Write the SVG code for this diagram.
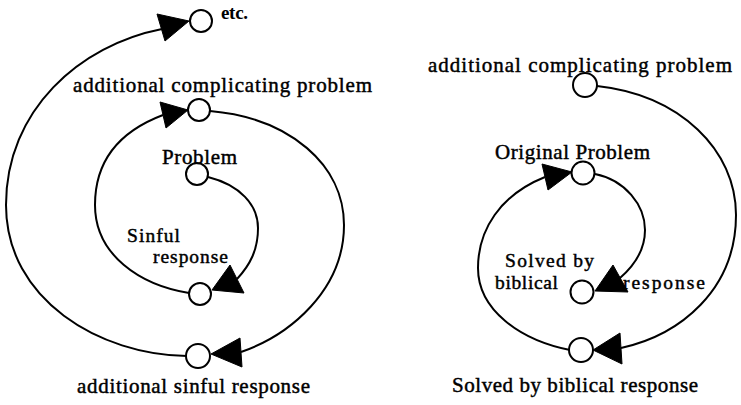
<svg xmlns="http://www.w3.org/2000/svg" width="741" height="405" viewBox="0 0 741 405">
<style>
.lbl{font-family:"Liberation Serif","Times New Roman",serif;font-size:21px;fill:#000;stroke:#000;stroke-width:0.45}
.sm{font-size:19.5px}
.node circle{fill:#fff;stroke:#000;stroke-width:2}
.conn path{fill:none;stroke:#000;stroke-width:2}
.conn polygon{fill:#000;stroke:#000;stroke-width:1}
</style>
<rect width="741" height="405" fill="#fff"/>
<g id="connectors" class="conn">
<path d="M187,356 C100,355 6,300 6,205 C6,110 80,45 162,29"/>
<polygon points="189,21 157,14 165,41"/>
<path d="M163,115 C110,135 95,170 95,205 C95,255 140,285 189,293"/>
<polygon points="188,110 160,102 166,128"/>
<path d="M210,111 C290,118 344,165 344,225 C344,290 290,335 241,352"/>
<polygon points="211,354 240,338 242,367"/>
<path d="M208,177 C240,185 258,205 258,228 C258,250 250,265 237,279"/>
<polygon points="212,290 230,265 244,293"/>
<path d="M597,86 C680,95 736,150 736,215 C736,290 680,335 621,348"/>
<polygon points="593,350 620,333 622,364"/>
<path d="M545,177 C500,195 478,230 478,268 C478,310 520,340 570,350"/>
<polygon points="572,172 542,164 548,190"/>
<path d="M595,174 C625,180 645,205 645,230 C645,250 635,265 620,278"/>
<polygon points="595,291 613,265 628,292"/>
</g>
<g id="etc" class="node"><circle cx="201" cy="21" r="11"/><text x="221" y="19" font-family="Liberation Serif, serif" font-weight="bold" font-size="19" textLength="27">etc.</text></g>
<g id="add-problem-left" class="node"><circle cx="199" cy="110" r="11"/><text class="lbl" x="73" y="92" textLength="299">additional complicating problem</text></g>
<g id="problem" class="node"><circle cx="197" cy="174" r="11"/><text class="lbl" x="162" y="164" textLength="75">Problem</text></g>
<g id="sinful-response" class="node"><circle cx="200" cy="294" r="11"/><text class="lbl sm" x="127" y="242" textLength="53">Sinful</text><text class="lbl sm" x="153" y="263" textLength="75">response</text></g>
<g id="add-sinful" class="node"><circle cx="198" cy="356" r="12"/><text class="lbl" x="77" y="393" textLength="233">additional sinful response</text></g>
<g id="add-problem-right" class="node"><circle cx="585" cy="85" r="12"/><text class="lbl" x="428" y="72" textLength="304">additional complicating problem</text></g>
<g id="original-problem" class="node"><circle cx="583" cy="173" r="11.5"/><text class="lbl" x="495" y="159" textLength="155">Original Problem</text></g>
<g id="solved-inner" class="node"><circle cx="582" cy="292" r="11.5"/><text class="lbl sm" x="505" y="267" textLength="89">Solved by</text><text class="lbl sm" x="495" y="289" textLength="63">biblical</text><text class="lbl sm" x="623" y="289" textLength="82">response</text></g>
<g id="solved-outer" class="node"><circle cx="581" cy="350" r="12"/><text class="lbl" x="452" y="392" textLength="246">Solved by biblical response</text></g>
</svg>
